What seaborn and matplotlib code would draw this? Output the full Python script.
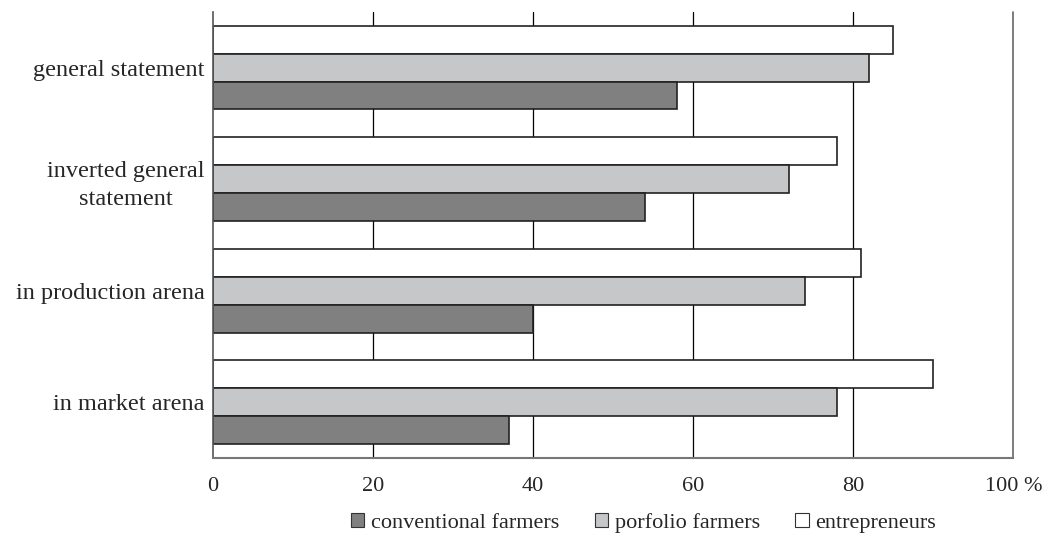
import matplotlib
matplotlib.use("Agg")
import matplotlib.pyplot as plt
import seaborn as sns
import pandas as pd
from matplotlib.patches import Patch

# --- data ---
categories = ['general statement', 'inverted general\nstatement',
              'in production arena', 'in market arena']
conventional = [58, 54, 40, 37]
portfolio = [82, 72, 74, 78]
entrepreneurs = [85, 78, 81, 90]
series_names = ['conventional farmers', 'porfolio farmers', 'entrepreneurs']
tick_vals = [0, 20, 40, 60, 80, 100]
tick_labels = ['0', '20', '40', '60', '80', '100 %']

colors = {'conventional farmers': '#808080',
          'porfolio farmers': '#c6c7c9',
          'entrepreneurs': '#ffffff'}

rows = []
for name, vals in zip(series_names, [conventional, portfolio, entrepreneurs]):
    for cat, v in zip(categories, vals):
        rows.append({'category': cat, 'group': name, 'value': v})
df = pd.DataFrame(rows)

sns.set_style('white')
plt.rcParams['font.family'] = ['Liberation Serif', 'DejaVu Serif']

fig = plt.figure(figsize=(10.6, 5.41), dpi=100)
ax = fig.add_axes([0.201, 0.1534, 0.755, 0.8246])

# top bar in each group is entrepreneurs, so reverse the hue order
sns.barplot(data=df, x='value', y='category', hue='group',
            order=categories, hue_order=series_names[::-1],
            palette=colors, orient='h', width=0.75,
            edgecolor='#222222', linewidth=1.2, legend=False, ax=ax)

ax.set_xlim(0, 100)
ax.set_ylim(3.5, -0.5)
ax.set_xticks(tick_vals)
ax.set_xticklabels(tick_labels, fontsize=16)
ax.set_xlabel('')
ax.set_ylabel('')

# vertical gridlines
for t in tick_vals[1:-1]:
    ax.axvline(t, color='black', linewidth=0.9, zorder=0)
ax.axvline(100, color='#666666', linewidth=1.2, zorder=0, clip_on=False)

# category labels, centred lines
ax.set_yticks(range(len(categories)))
ax.set_yticklabels(categories, fontsize=17.5, multialignment='center',
                   linespacing=1.45)
ax.tick_params(axis='y', length=0, pad=6)
ax.set_yticks([i - 0.5 for i in range(len(categories) + 1)], minor=True)
ax.tick_params(axis='y', which='minor', length=5, width=1.2,
               color='#555555', direction='out')
ax.tick_params(axis='x', length=5, width=1.0, color='#555555',
               direction='out', pad=9)

for side in ['top', 'right']:
    ax.spines[side].set_visible(False)
ax.spines['left'].set_color('#555555')
ax.spines['bottom'].set_color('#777777')
ax.spines['left'].set_linewidth(1.2)
ax.spines['bottom'].set_linewidth(1.5)

handles = [Patch(facecolor=colors[n], edgecolor='#333333', linewidth=0.8)
           for n in series_names]
fig.legend(handles, series_names, loc='lower center', ncol=3,
           bbox_to_anchor=(0.607, -0.022), frameon=False, fontsize=16,
           handlelength=0.6, handleheight=0.6, handletextpad=0.3,
           columnspacing=1.6)

fig.savefig('out.png', dpi=100)
